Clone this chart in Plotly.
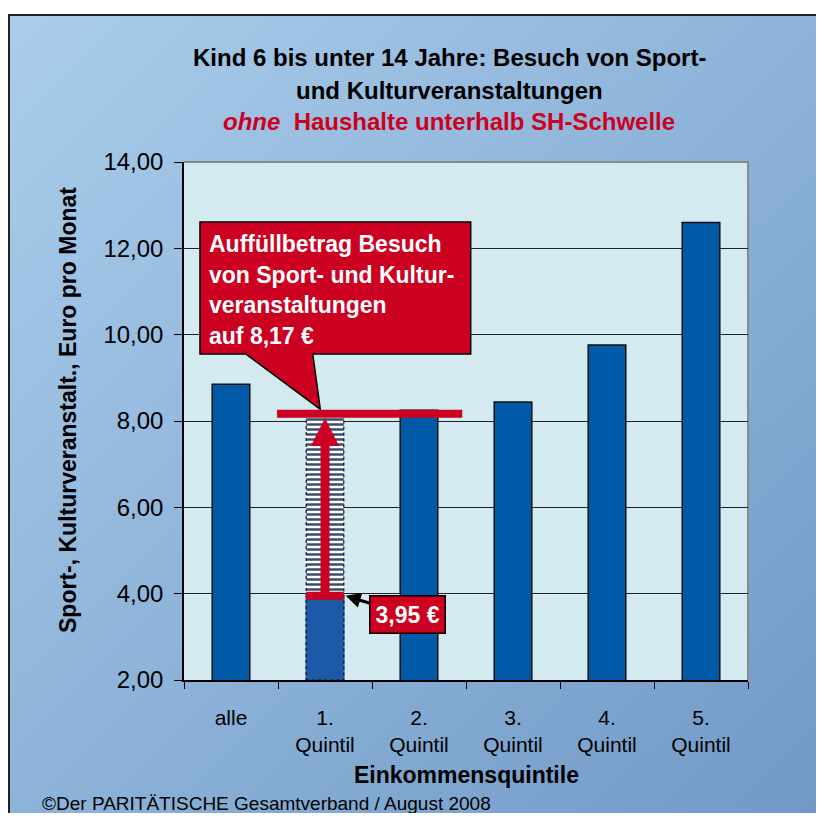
"""Kind 6 bis unter 14 Jahre: Besuch von Sport- und Kulturveranstaltungen."""

import base64

import plotly.graph_objects as go

# Daten
categories = ["alle", "1.<br>Quintil", "2.<br>Quintil", "3.<br>Quintil", "4.<br>Quintil", "5.<br>Quintil"]
values = [8.85, 3.95, 8.25, 8.44, 9.76, 12.60]
target = 8.17          # Auffüllbetrag
y_ticks = [2, 4, 6, 8, 10, 12, 14]

BLUE = "#005aa8"
RED = "#cc0020"
FONT = "Liberation Sans, Arial, sans-serif"

# Seite hat 8px Rand -> Figur etwas kleiner, Koordinaten relativ zum Bild
OFF = 8
W, H = 816, 805
L, R, T, B = 184 - OFF, 748 - OFF, 162 - OFF, 680 - OFF
PW, PH = R - L, B - T


def px(x, y):
    """Pixel im Referenzbild -> paper-Koordinaten."""
    return (x - OFF - L) / PW, (B - (y - OFF)) / PH


q1 = values[1]

fig = go.Figure()

# gestreifte Ergänzung (1. Quintil)
fig.add_trace(go.Bar(
    x=[categories[1]], y=[target - q1], base=[q1],
    width=0.4,
    marker=dict(
        color="white",
        line=dict(color="#222222", width=0),
        pattern=dict(shape="-", fgcolor="#3a4c70", fgopacity=1, bgcolor="white",
                     size=5, solidity=0.5),
    ),
    hoverinfo="skip",
))

# Hauptbalken
bar_colors = [BLUE] * len(values)
bar_colors[1] = "#1c5aa8"
line_colors = ["#111111"] * len(values)
line_colors[1] = "#2d5fb0"
fig.add_trace(go.Bar(
    x=categories, y=values,
    width=0.4,
    marker=dict(color=bar_colors, line=dict(color=line_colors, width=1.5)),
))

# Hintergrund mit Verlauf
svg = (
    f'<svg xmlns="http://www.w3.org/2000/svg" width="{W}" height="{H}">'
    '<defs><linearGradient id="g" x1="0" y1="0" x2="1" y2="1">'
    '<stop offset="0" stop-color="#aacdeb"/><stop offset="1" stop-color="#7099c6"/>'
    '</linearGradient></defs>'
    f'<rect width="{W}" height="{H}" fill="url(#g)"/></svg>'
)
src = "data:image/svg+xml;base64," + base64.b64encode(svg.encode()).decode()
gx0, gy1 = px(OFF, 15)
fig.add_layout_image(dict(
    source=src, xref="paper", yref="paper", x=gx0, y=gy1,
    sizex=W / PW, sizey=H / PH, sizing="stretch", layer="below",
    xanchor="left", yanchor="top",
))

shapes = []
# Plotfläche
shapes.append(dict(type="rect", xref="x domain", yref="y domain", x0=0, x1=1, y0=0, y1=1,
                   fillcolor="#d3eaf1", line=dict(width=0), layer="below"))
# grauer Rahmen oben/rechts
shapes.append(dict(type="path", xref="paper", yref="paper", path="M0,1 L1,1 L1,0",
                   line=dict(color="#8a8a8a", width=2), layer="below"))
# Außenrahmen (nur oben und links sichtbar)
fx0, fy1 = px(OFF + 1, 15)
fx1, fy0 = px(OFF + W, OFF + H)
shapes.append(dict(type="path", xref="paper", yref="paper",
                   path=f"M {fx0},{fy0} L {fx0},{fy1} L {fx1},{fy1}",
                   line=dict(color="#222222", width=2), layer="below"))

# gestrichelter Umriss der 1. Quintil-Säule
shapes.append(dict(type="rect", xref="x", yref="y", x0=0.8, x1=1.2, y0=y_ticks[0], y1=target,
                   line=dict(color="#111111", width=1.2, dash="dot"), layer="above"))

# Sprechblase
shapes.append(dict(
    type="path", xref="x", yref="y",
    path="M -0.33,12.61 L 2.55,12.61 L 2.55,9.55 L 0.87,9.55 L 0.95,8.27 L 0.16,9.55 L -0.33,9.55 Z",
    fillcolor=RED, line=dict(color="black", width=1.5), layer="above",
))
# rote Linie auf Zielwert
shapes.append(dict(type="line", xref="x", yref="y", x0=0.49, x1=2.46, y0=target, y1=target,
                   line=dict(color=RED, width=8), layer="above"))
# rote Markierung auf 3,95
shapes.append(dict(type="line", xref="x", yref="y", x0=0.8, x1=1.2, y0=q1, y1=q1,
                   line=dict(color=RED, width=8), layer="above"))
# Pfeil nach oben
shapes.append(dict(type="line", xref="x", yref="y", x0=1, x1=1, y0=q1 + 0.05, y1=target - 0.7,
                   line=dict(color=RED, width=9), layer="above"))
shapes.append(dict(type="path", xref="x", yref="y",
                   path=f"M 0.85,{target - 0.75} L 1.15,{target - 0.75} L 1,{target - 0.1} Z",
                   fillcolor=RED, line=dict(width=0), layer="above"))

annotations = []


def text_px(text, x, y, size=20, color="black", anchor="center", **kw):
    ax, ay = px(x, y)
    annotations.append(dict(
        text=text, x=ax, y=ay, xref="paper", yref="paper", showarrow=False,
        xanchor=anchor, yanchor="middle", font=dict(family=FONT, size=size, color=color), **kw,
    ))


# Titel
text_px("<b>Kind 6 bis unter 14 Jahre: Besuch von Sport-</b>", 449, 57, size=24)
text_px("<b>und Kulturveranstaltungen</b>", 449, 90, size=24)
text_px("<b><i>ohne</i>  Haushalte unterhalb SH-Schwelle</b>", 449, 122, size=24, color=RED)

# Text in Sprechblase
for i, line in enumerate(["Auffüllbetrag Besuch", "von Sport- und Kultur-",
                          "veranstaltungen", f"auf {target:.2f} €".replace(".", ",")]):
    text_px(f"<b>{line}</b>", 207, 244 + i * 30.7, size=23, color="white", anchor="left")

# 3,95 € Label mit Pfeil
annotations.append(dict(
    text=f"<b>{q1:.2f} €</b>".replace(".", ","), x=1.22, y=q1, xref="x", yref="y",
    showarrow=True, ax=62, ay=19, arrowhead=2, arrowsize=1, arrowwidth=3, arrowcolor="black",
    bgcolor=RED, bordercolor="black", borderwidth=1.5, borderpad=5,
    font=dict(family=FONT, size=23, color="white"),
))

# Achsentitel und Quelle
text_px("<b>Sport-, Kulturveranstalt., Euro pro Monat</b>", 68, 410, size=23, textangle=-90)
text_px("<b>Einkommensquintile</b>", 466, 775, size=23)
text_px("©Der PARITÄTISCHE Gesamtverband / August 2008", 40, 803, size=19, anchor="left")

fig.update_layout(
    width=W, height=H,
    margin=dict(l=L, r=W - R, t=T, b=H - B),
    paper_bgcolor="white",
    plot_bgcolor="rgba(0,0,0,0)",
    barmode="overlay",
    showlegend=False,
    separators=",.",
    font=dict(family=FONT, size=20, color="black"),
    shapes=shapes,
    annotations=annotations,
)
fig.update_yaxes(
    range=[2, 14], tickvals=y_ticks, tickformat=".2f",
    showgrid=True, gridcolor="#222222", gridwidth=1,
    showline=True, linecolor="black", linewidth=1.5,
    ticks="outside", ticklen=8, tickcolor="black",
    tickfont=dict(size=24), ticklabelstandoff=6, zeroline=False,
)
fig.update_xaxes(
    categoryorder="array", categoryarray=categories,
    showline=True, linecolor="black", linewidth=1.5,
    ticks="outside", tickson="boundaries", ticklen=7, tickcolor="black",
    tickfont=dict(size=21), ticklabelstandoff=18,
)

fig.write_html("out.html")
